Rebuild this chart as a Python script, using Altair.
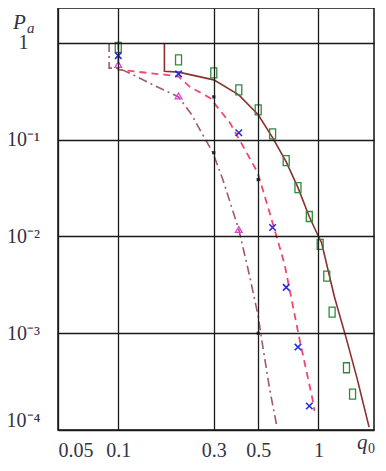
import altair as alt
import pandas as pd

# ---- curves (q0, Pa) ----
A_q = [0.17, 0.17, 0.2, 0.3, 0.4, 0.5, 0.59, 0.69, 0.79, 0.9, 1.0, 1.035, 1.2, 1.38, 1.56, 1.79]
A_p = [1, 0.51, 0.5, 0.416, 0.291, 0.181, 0.105, 0.059, 0.032, 0.016, 0.01, 0.0087, 0.0024, 0.00087, 0.00034, 0.000107]

B_q = [0.1, 0.1, 0.17, 0.2, 0.228, 0.287, 0.361, 0.438, 0.497, 0.57, 0.677, 0.804, 0.934, 0.955]
B_p = [1, 0.53, 0.47, 0.45, 0.352, 0.271, 0.150, 0.0734, 0.0457, 0.0177, 0.00517, 0.00087, 0.000208, 0.000158]

C_q = [0.09, 0.09, 0.1, 0.119, 0.153, 0.2, 0.233, 0.256, 0.297, 0.333, 0.4, 0.4535, 0.5, 0.526, 0.57, 0.618]
C_p = [1, 0.55, 0.55, 0.468, 0.36, 0.277, 0.181, 0.1265, 0.0734, 0.0387, 0.0118, 0.00387, 0.0015, 0.00075, 0.000267, 0.000112]

# ---- markers ----
G_q = [0.1, 0.2, 0.3, 0.4, 0.5, 0.59, 0.69, 0.79, 0.9, 1.02, 1.1, 1.17, 1.38, 1.48]
G_p = [0.9, 0.668, 0.49, 0.328, 0.204, 0.115, 0.0608, 0.032, 0.0161, 0.0083, 0.0039, 0.00165, 0.00044, 0.000235]

X_q = [0.1, 0.2, 0.4, 0.59, 0.69, 0.79, 0.9]
X_p = [0.74, 0.479, 0.118, 0.0124, 0.00298, 0.00072, 0.000177]

T_q = [0.1, 0.2, 0.4]
T_p = [0.6, 0.284, 0.0118]

D_q = [0.3, 0.5, 0.3, 0.5]
D_p = [0.2775, 0.0387, 0.0734, 0.001]

x_ticks = [0.05, 0.1, 0.3, 0.5, 1]
y_ticks = [0.0001, 0.001, 0.01, 0.1, 1]


def df(q, p):
    return pd.DataFrame({"q": q, "p": p, "i": list(range(len(q)))})


FONT = "Liberation Serif"
LABEL_COLOR = "#333344"

X = alt.X(
    "q:Q",
    scale=alt.Scale(type="log", domain=[0.05, 1.894], nice=False),
    axis=alt.Axis(
        values=x_ticks, format="~g", grid=True, gridColor="#1a1a1a", gridWidth=1.3,
        gridOpacity=1, domain=False, ticks=False, tickSize=0, labelFont=FONT,
        labelFontSize=20, labelColor=LABEL_COLOR, labelPadding=10, labelFlush=True,
        title=None, zindex=1,
    ),
)
Y = alt.Y(
    "p:Q",
    scale=alt.Scale(type="log", domain=[0.0001, 2.3], nice=False),
    axis=alt.Axis(
        values=y_ticks, grid=True, gridColor="#1a1a1a", gridWidth=1.3, gridOpacity=1,
        domain=False, ticks=False, tickSize=0, labelFont=FONT, labelFontSize=20,
        labelColor=LABEL_COLOR, labelPadding=35, labelAlign="center", labelFlush=True,
        labelExpr="datum.value > 0.5 ? '1' : datum.value > 0.05 ? '10⁻¹' : datum.value > 0.005 ? '10⁻²' : datum.value > 0.0005 ? '10⁻³' : '10⁻⁴'",
        title=None, zindex=1,
    ),
)

lineA = alt.Chart(df(A_q, A_p)).mark_line(color="#8B3030", strokeWidth=1.6, clip=True).encode(
    x=X, y=Y, order="i:Q")
lineB = alt.Chart(df(B_q, B_p)).mark_line(color="#F04866", strokeWidth=1.8, strokeDash=[7, 5], clip=True).encode(
    x=X, y=Y, order="i:Q")
lineC = alt.Chart(df(C_q, C_p)).mark_line(color="#A05A6A", strokeWidth=1.6, strokeDash=[9, 4, 2, 4], clip=True).encode(
    x=X, y=Y, order="i:Q")

rect_path = "M-0.6,-1L0.6,-1L0.6,1L-0.6,1Z"
xmark_path = "M-1,-1L1,1M-1,1L1,-1"

ptsG = alt.Chart(df(G_q, G_p)).mark_point(shape=rect_path, size=100, filled=False, color="#2E8B3A", strokeWidth=1.3, opacity=1).encode(x=X, y=Y)
ptsX = alt.Chart(df(X_q, X_p)).mark_point(shape=xmark_path, size=42, filled=False, color="#2A2AE0", strokeWidth=1.6, opacity=1).encode(x=X, y=Y)
ptsT = alt.Chart(df(T_q, T_p)).mark_point(shape="triangle-up", size=45, filled=False, color="#E040E0", strokeWidth=1.3, opacity=1).encode(x=X, y=Y)
ptsD = alt.Chart(df(D_q, D_p)).mark_point(shape="square", size=10, filled=True, color="#202060", opacity=1).encode(x=X, y=Y)

txtP = alt.Chart().mark_text(text="P", font=FONT, fontStyle="italic", fontSize=21, align="left", baseline="alphabetic", color=LABEL_COLOR).encode(
    x=alt.value(-45), y=alt.value(21))
txtA = alt.Chart().mark_text(text="a", font=FONT, fontStyle="italic", fontSize=15, align="left", baseline="alphabetic", color=LABEL_COLOR).encode(
    x=alt.value(-31), y=alt.value(25))
txtQ = alt.Chart().mark_text(text="q", font=FONT, fontStyle="italic", fontSize=21, align="left", baseline="alphabetic", color=LABEL_COLOR).encode(
    x=alt.value(299), y=alt.value(441))
txt0 = alt.Chart().mark_text(text="0", font=FONT, fontSize=14, align="left", baseline="alphabetic", color=LABEL_COLOR).encode(
    x=alt.value(310), y=alt.value(445))

chart = alt.layer(lineA, lineB, lineC, ptsG, ptsX, ptsT, ptsD, txtP, txtA, txtQ, txt0).properties(
    width=316, height=422,
    autosize=alt.AutoSizeParams(type="none"),
    padding={"left": 50, "top": 0, "right": 4, "bottom": 29},
    background="white",
).configure_view(stroke="#111111", strokeWidth=1.5)

chart.save("out.html", embed_options={"renderer": "svg", "actions": False})
